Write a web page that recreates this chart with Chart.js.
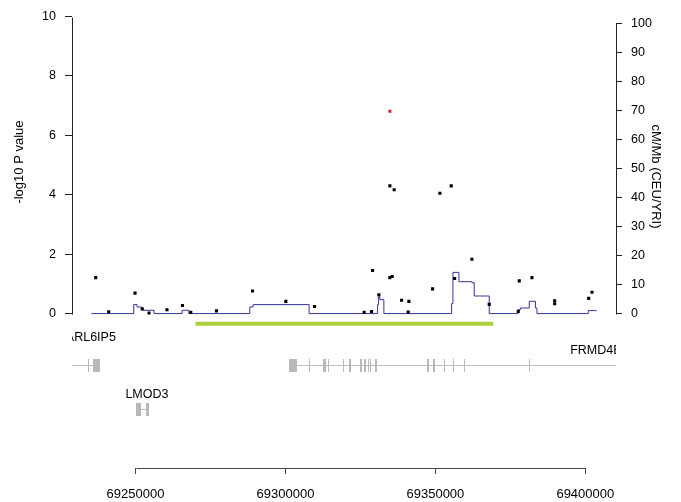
<!DOCTYPE html>
<html>
<head>
<meta charset="utf-8">
<script src="https://cdn.jsdelivr.net/npm/chart.js@4.4.1/dist/chart.umd.min.js"></script>
<style>
  html, body { margin: 0; padding: 0; background: #fff; }
  canvas { display: block; }
</style>
</head>
<body>
<canvas id="locus" width="681" height="502"></canvas>
<script>
// SNPs: position (bp) and -log10 P
const snpPos = [69236720, 69241058, 69249833, 69252236, 69254505, 69260477, 69265649, 69268418,
  69276993, 69289005, 69300117, 69309693, 69326243, 69328712, 69329046, 69331148, 69334818,
  69336253, 69334800, 69335586, 69338722, 69341158, 69340925, 69349066, 69351502, 69355272,
  69356406, 69362179, 69367951, 69377628, 69377961, 69382199, 69389773, 69389773, 69401118, 69402219];
const snpLogP = [1.21, 0.06, 0.69, 0.16, 0.02, 0.13, 0.27, 0.04,
  0.09, 0.76, 0.41, 0.24, 0.04, 0.07, 1.45, 0.63, 4.30,
  4.17, 1.21, 1.25, 0.45, 0.41, 0.05, 0.83, 4.05, 4.30,
  1.18, 1.83, 0.31, 0.07, 1.10, 1.21, 0.43, 0.33, 0.51, 0.72];

// top SNP (red)
const leadPos = [69334818];
const leadLogP = [6.81];

// recombination rate (cM/Mb), each value holds until the next position
const recombPos = [69235285, 69249399, 69250500, 69251969, 69252503, 69256173, 69265516, 69267751,
  69288105, 69289206, 69307891, 69330714, 69331048, 69331481, 69332816, 69355405, 69355839,
  69357841, 69362179, 69362946, 69367951, 69377527, 69378362, 69381298, 69383367, 69383867,
  69400984, 69403787];
const recombRate = [0, 3.1, 2.27, 1.48, 1.14, 0, 1.14, 0,
  2.27, 3.1, 0, 3.1, 5.71, 4.82, 0, 3.44, 14.2,
  11.0, 10.67, 6.06, 0, 1.38, 1.93, 4.23, 1.93, 0,
  1.03, 1.03];

// highlighted region (green bar)
const regionSpan = [69270000, 69369300];

// genes
const geneNames = ['ARL6IP5', 'FRMD4B', 'LMOD3'];
const geneStart = [69220000, 69301218, 69250300];
const geneEnd = [69238288, 69520000, 69254505];
const geneRow = [0, 0, 1];
const geneLabelAt = [69235100, 69403520, 69253804];
const geneExons = [
  [[69234000, 69234330], [69235819, 69238288]],
  [[69301218, 69303687], [69308000, 69308330], [69312362, 69313363], [69314031, 69314464],
   [69319036, 69319469], [69321238, 69321705], [69324808, 69325375], [69326143, 69326810],
   [69327477, 69327911], [69328245, 69328579], [69329913, 69330380], [69347264, 69347831],
   [69349266, 69349833], [69352936, 69353270], [69355939, 69356270], [69359510, 69359840],
   [69381098, 69381430]],
  [[69250300, 69251835], [69253403, 69254505]]
];

// axis ticks
const xTicks = [69250000, 69300000, 69350000, 69400000];
const pTicks = [0, 2, 4, 6, 8, 10];
const rateTicks = [0, 10, 20, 30, 40, 50, 60, 70, 80, 90, 100];

Chart.defaults.font.family = '"Liberation Sans", Arial, sans-serif';
Chart.defaults.color = '#000';

// axis lines, gene track and axis titles
const locusExtras = {
  id: 'locusExtras',
  afterDatasetsDraw(chart) {
    const { ctx, chartArea: a, scales } = chart;
    const x = scales.x, y = scales.y, y2 = scales.y2;
    ctx.save();

    // axis lines (only across the tick range, R style)
    ctx.strokeStyle = '#222';
    ctx.lineWidth = 1;
    ctx.beginPath();
    const lx = Math.round(a.left) + 0.5;
    ctx.moveTo(lx, Math.round(y.getPixelForValue(pTicks[0])) + 0.5);
    ctx.lineTo(lx, Math.round(y.getPixelForValue(pTicks[pTicks.length - 1])) + 0.5);
    const rx = Math.round(a.right) + 0.5;
    ctx.moveTo(rx, Math.round(y2.getPixelForValue(rateTicks[0])) + 0.5);
    ctx.lineTo(rx, Math.round(y2.getPixelForValue(rateTicks[rateTicks.length - 1])) + 0.5);
    ctx.stroke();
    ctx.strokeStyle = '#444';
    ctx.beginPath();
    const by = Math.round(a.bottom) + 0.5;
    ctx.moveTo(Math.round(x.getPixelForValue(xTicks[0])) + 0.5, by);
    ctx.lineTo(Math.round(x.getPixelForValue(xTicks[xTicks.length - 1])) + 0.5, by);
    ctx.stroke();

    // genes, clipped to the plot
    ctx.save();
    ctx.beginPath();
    ctx.rect(a.left, a.top, a.width, a.height);
    ctx.clip();
    const trackLevels = [-1.74, -3.2];
    geneNames.forEach((name, i) => {
      const yc = Math.round(y.getPixelForValue(trackLevels[geneRow[i]]));
      ctx.strokeStyle = '#bcbcbc';
      ctx.beginPath();
      ctx.moveTo(x.getPixelForValue(geneStart[i]), yc + 0.5);
      ctx.lineTo(x.getPixelForValue(geneEnd[i]), yc + 0.5);
      ctx.stroke();
      ctx.fillStyle = '#b9b9b9';
      geneExons[i].forEach(ex => {
        const x0 = Math.round(x.getPixelForValue(ex[0]));
        const x1 = Math.max(x0 + 1, Math.round(x.getPixelForValue(ex[1])));
        ctx.fillRect(x0, yc - 6, x1 - x0, 13);
      });
      ctx.fillStyle = '#000';
      ctx.font = '12.5px "Liberation Sans", Arial, sans-serif';
      ctx.textAlign = 'center';
      ctx.textBaseline = 'middle';
      const lift = name === 'ARL6IP5' ? 27 : 14;
      ctx.fillText(name, x.getPixelForValue(geneLabelAt[i]), yc - lift);
    });
    ctx.restore();

    // axis titles
    ctx.fillStyle = '#000';
    ctx.font = '13px "Liberation Sans", Arial, sans-serif';
    ctx.textAlign = 'center';
    ctx.textBaseline = 'middle';
    ctx.save();
    ctx.translate(19, y.getPixelForValue(5) - 3);
    ctx.rotate(-Math.PI / 2);
    ctx.fillText('-log10 P value', 0, 0);
    ctx.restore();
    ctx.save();
    ctx.translate(656, y2.getPixelForValue(50) + 8);
    ctx.rotate(Math.PI / 2);
    ctx.fillText('cM/Mb (CEU/YRI)', 0, 0);
    ctx.restore();

    ctx.restore();
  }
};

new Chart(document.getElementById('locus'), {
  type: 'scatter',
  data: {
    datasets: [
      {
        label: 'lead SNP',
        data: leadPos.map((p, i) => ({ x: p, y: leadLogP[i] })),
        yAxisID: 'y',
        pointStyle: 'rect',
        pointRadius: 2.2,
        backgroundColor: '#dd2228',
        borderWidth: 0,
        order: 0
      },
      {
        label: 'SNPs',
        data: snpPos.map((p, i) => ({ x: p, y: snpLogP[i] })),
        yAxisID: 'y',
        pointStyle: 'rect',
        pointRadius: 2.2,
        backgroundColor: '#000',
        borderWidth: 0,
        order: 1
      },
      {
        type: 'line',
        label: 'recombination',
        data: recombPos.map((p, i) => ({ x: p, y: recombRate[i] })),
        yAxisID: 'y2',
        stepped: true,
        showLine: true,
        borderColor: '#35359a',
        borderWidth: 1,
        pointRadius: 0,
        fill: false,
        order: 2
      },
      {
        type: 'line',
        label: 'region',
        data: regionSpan.map(p => ({ x: p, y: -0.343 })),
        yAxisID: 'y',
        showLine: true,
        borderColor: 'rgb(172,206,60)',
        borderWidth: 4,
        borderCapStyle: 'butt',
        pointRadius: 0,
        fill: false,
        order: 3
      }
    ]
  },
  options: {
    responsive: false,
    animation: false,
    devicePixelRatio: 1,
    layout: { padding: { top: 16, left: 0, right: 0, bottom: 0 } },
    plugins: { legend: { display: false }, tooltip: { enabled: false } },
    scales: {
      x: {
        type: 'linear',
        position: 'bottom',
        min: 69228812,
        max: 69410227,
        afterBuildTicks: s => { s.ticks = xTicks.map(v => ({ value: v })); },
        afterFit: s => { s.height = 34; },
        ticks: { callback: v => String(v), maxRotation: 0, autoSkip: false, padding: 13, font: { size: 13 } },
        grid: { drawOnChartArea: false, tickLength: 6, color: '#444' },
        border: { display: false }
      },
      y: {
        type: 'linear',
        position: 'left',
        min: -5.198,
        max: 10,
        afterBuildTicks: s => { s.ticks = pTicks.map(v => ({ value: v })); },
        afterFit: s => { s.width = 72; },
        ticks: { padding: 9, font: { size: 12.5 } },
        grid: { drawOnChartArea: false, tickLength: 7, color: '#222' },
        border: { display: false }
      },
      y2: {
        type: 'linear',
        position: 'right',
        min: -53.23,
        max: 102.41,
        afterBuildTicks: s => { s.ticks = rateTicks.map(v => ({ value: v })); },
        afterFit: s => { s.width = 65; },
        ticks: { padding: 9, font: { size: 12.5 } },
        grid: { drawOnChartArea: false, tickLength: 6, color: '#222' },
        border: { display: false }
      }
    }
  },
  plugins: [locusExtras]
});
</script>
</body>
</html>
